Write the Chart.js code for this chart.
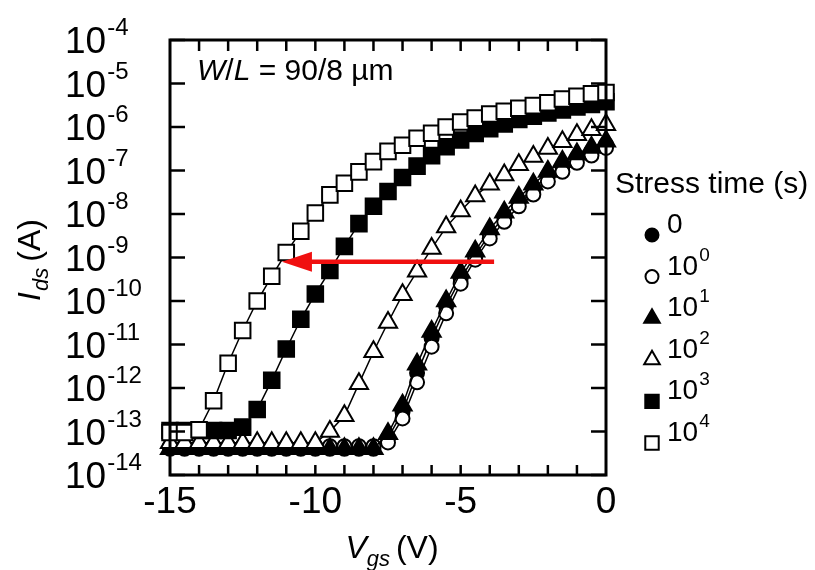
<!DOCTYPE html>
<html>
<head>
<meta charset="utf-8">
<script src="https://cdn.jsdelivr.net/npm/chart.js@4.4.0/dist/chart.umd.min.js"></script>
<style>
  html, body { margin: 0; padding: 0; background: #fff; }
  #wrap { width: 815px; height: 570px; }
</style>
</head>
<body>
<div id="wrap"><canvas id="ivChart" width="815" height="570"></canvas></div>
<script>
// gate sweep (V)
const vgs = [-15, -14.5, -14, -13.5, -13, -12.5, -12, -11.5, -11, -10.5, -10, -9.5, -9, -8.5, -8,
  -7.5, -7, -6.5, -6, -5.5, -5, -4.5, -4, -3.5, -3, -2.5, -2, -1.5, -1, -0.5, 0];

// drain current (A) after each stress time
const ids0 = [4.0e-14, 4.0e-14, 4.0e-14, 4.0e-14, 4.0e-14, 4.0e-14, 4.0e-14, 4.0e-14, 4.0e-14, 4.0e-14,
  4.0e-14, 4.0e-14, 4.0e-14, 4.0e-14, 4.0e-14,
  7.1e-14, 2.8e-13, 2.2e-12, 1.4e-11, 7.6e-11, 3.3e-10, 1.1e-9, 3.5e-9, 8.7e-9, 1.9e-8,
  3.8e-8, 7.6e-8, 1.26e-7, 2.0e-7, 2.8e-7, 4.0e-7];
const ids1e0 = [4.6e-14, 4.6e-14, 4.6e-14, 4.6e-14, 4.6e-14, 4.6e-14, 4.6e-14, 4.6e-14, 4.6e-14, 4.6e-14,
  4.6e-14, 4.6e-14, 4.6e-14, 4.6e-14, 4.6e-14,
  5.6e-14, 2.0e-13, 1.35e-12, 8.9e-12, 5.2e-11, 2.5e-10, 8.9e-10, 2.75e-9, 6.6e-9, 1.5e-8,
  2.8e-8, 5.6e-8, 9.3e-8, 1.5e-7, 2.2e-7, 3.3e-7];
const ids1e1 = [4.0e-14, 4.0e-14, 4.0e-14, 4.0e-14, 4.0e-14, 4.0e-14, 4.0e-14, 4.0e-14, 4.0e-14, 4.0e-14,
  4.0e-14, 4.0e-14, 4.0e-14, 4.0e-14, 4.0e-14,
  8.9e-14, 4.0e-13, 3.5e-12, 2.0e-11, 1.0e-10, 4.5e-10, 1.4e-9, 4.5e-9, 1.1e-8, 2.4e-8,
  4.8e-8, 9.5e-8, 1.6e-7, 2.4e-7, 3.4e-7, 4.7e-7];
const ids1e2 = [5.5e-14, 5.5e-14, 5.5e-14, 5.5e-14, 5.5e-14, 5.5e-14, 5.5e-14, 5.5e-14, 5.5e-14, 5.5e-14,
  5.5e-14,
  1.0e-13, 2.3e-13, 1.26e-12, 6.8e-12, 3.2e-11, 1.4e-10, 4.8e-10, 1.6e-9, 5.0e-9, 1.17e-8,
  2.6e-8, 4.8e-8, 7.9e-8, 1.35e-7, 2.1e-7, 3.2e-7, 4.6e-7, 6.6e-7, 8.7e-7, 1.12e-6];
const ids1e3 = [1.05e-13, 1.05e-13, 1.05e-13, 1.05e-13, 1.05e-13, 1.26e-13, 3.2e-13, 1.5e-12, 7.9e-12,
  3.8e-11, 1.45e-10, 5.0e-10, 1.8e-9, 6.0e-9, 1.5e-8, 3.3e-8, 6.9e-8, 1.26e-7, 2.2e-7, 3.5e-7,
  5.0e-7, 7.1e-7, 9.1e-7, 1.17e-6, 1.48e-6, 1.78e-6, 2.1e-6, 2.45e-6, 2.9e-6, 3.3e-6, 3.8e-6];
const ids1e4 = [9.5e-14, 9.5e-14, 1.1e-13, 5.1e-13, 3.7e-12, 2.1e-11, 1.0e-10, 3.7e-10, 1.3e-9, 4.0e-9,
  1.05e-8, 2.75e-8, 5.1e-8, 9.3e-8, 1.6e-7, 2.75e-7, 3.8e-7, 5.5e-7, 7.2e-7, 1.0e-6, 1.3e-6,
  1.6e-6, 2.0e-6, 2.3e-6, 2.7e-6, 3.1e-6, 3.6e-6, 4.4e-6, 5.1e-6, 5.8e-6, 6.2e-6];

// axis labels
const xTickLabels = [-15, -10, -5, 0];
const yTickExps = [-4, -5, -6, -7, -8, -9, -10, -11, -12, -13, -14];
const legendExps = [null, 0, 1, 2, 3, 4];

// shift arrow (Vgs, Ids)
const arrowFrom = [-3.85, 8e-10];
const arrowTo = [-11.15, 8e-10];

const FONT = '"Liberation Sans", Arial, Helvetica, sans-serif';

const markers = [
  { style: 'circle', fill: '#000', r: 7 },
  { style: 'circle', fill: '#fff', r: 7 },
  { style: 'triangle', fill: '#000', r: 10.5 },
  { style: 'triangle', fill: '#fff', r: 10.5 },
  { style: 'rect', fill: '#000', r: 11 },
  { style: 'rect', fill: '#fff', r: 11 }
];

function makeSeries(values, m, order) {
  return {
    data: vgs.map((v, i) => ({ x: v, y: values[i] })),
    showLine: true,
    borderColor: '#000',
    borderWidth: 1.5,
    pointStyle: m.style,
    pointRadius: m.r,
    pointBackgroundColor: m.fill,
    pointBorderColor: '#000',
    pointBorderWidth: 2,
    clip: false,
    order: order
  };
}

function drawRuns(ctx, runs, x, y) {
  runs.forEach(r => {
    ctx.font = (r.italic ? 'italic ' : '') + r.size + 'px ' + FONT;
    ctx.fillText(r.text, x, y + (r.dy || 0));
    x += ctx.measureText(r.text).width + (r.gap || 0);
  });
  return x;
}

function runsWidth(ctx, runs) {
  let w = 0;
  runs.forEach(r => {
    ctx.font = (r.italic ? 'italic ' : '') + r.size + 'px ' + FONT;
    w += ctx.measureText(r.text).width + (r.gap || 0);
  });
  return w;
}

function line(ctx, x1, y1, x2, y2) {
  ctx.beginPath();
  ctx.moveTo(x1, y1);
  ctx.lineTo(x2, y2);
  ctx.stroke();
}

const decorations = {
  id: 'decorations',
  afterDatasetsDraw(chart) {
    const { ctx, chartArea: a, scales: { x, y } } = chart;
    ctx.save();

    // red arrow
    const ax1 = x.getPixelForValue(arrowFrom[0]), ay = y.getPixelForValue(arrowFrom[1]);
    const ax2 = x.getPixelForValue(arrowTo[0]);
    ctx.strokeStyle = '#f01010';
    ctx.fillStyle = '#f01010';
    ctx.lineWidth = 4.5;
    line(ctx, ax1, ay, ax2 + 20, ay);
    ctx.beginPath();
    ctx.moveTo(ax2, ay);
    ctx.lineTo(ax2 + 30, ay - 10);
    ctx.lineTo(ax2 + 30, ay + 10);
    ctx.closePath();
    ctx.fill();

    // frame with inward ticks
    ctx.strokeStyle = '#000';
    ctx.lineWidth = 3;
    ctx.strokeRect(a.left, a.top, a.right - a.left, a.bottom - a.top);
    ctx.lineWidth = 2.5;
    for (let v = -14; v <= -1; v++) {
      const px = x.getPixelForValue(v);
      line(ctx, px, a.bottom, px, a.bottom - 10);
      line(ctx, px, a.top, px, a.top + 11);
    }
    yTickExps.forEach(e => {
      const py = y.getPixelForValue(Math.pow(10, e));
      line(ctx, a.left, py, a.left + 15, py);
      line(ctx, a.right, py, a.right - 15, py);
    });

    ctx.fillStyle = '#000';
    ctx.textBaseline = 'alphabetic';
    ctx.textAlign = 'left';

    // y tick labels
    yTickExps.forEach(e => {
      const py = y.getPixelForValue(Math.pow(10, e));
      drawRuns(ctx, [
        { text: '10', size: 37, gap: 1 },
        { text: '-' + Math.abs(e), size: 24, dy: -18 }
      ], 65, py + 13);
    });

    // x tick labels
    xTickLabels.forEach(v => {
      const runs = [{ text: String(v), size: 37 }];
      const px = x.getPixelForValue(v);
      drawRuns(ctx, runs, px - runsWidth(ctx, runs) / 2, 513);
    });

    // x title
    const xt = [
      { text: 'V', size: 32, italic: true },
      { text: 'gs', size: 22, italic: true, dy: 8, gap: 6 },
      { text: '(V)', size: 32 }
    ];
    drawRuns(ctx, xt, (a.left + a.right) / 2 - runsWidth(ctx, xt) / 2 + 4, 558);

    // y title
    const yt = [
      { text: 'I', size: 32, italic: true, gap: 1 },
      { text: 'ds', size: 22, italic: true, dy: 8, gap: 6 },
      { text: '(A)', size: 32 }
    ];
    ctx.save();
    ctx.translate(40, 260);
    ctx.rotate(-Math.PI / 2);
    drawRuns(ctx, yt, -runsWidth(ctx, yt) / 2, 0);
    ctx.restore();

    // W/L note
    drawRuns(ctx, [
      { text: 'W', size: 30, italic: true },
      { text: '/', size: 30 },
      { text: 'L', size: 30, italic: true },
      { text: ' = 90/8 \u00b5m', size: 30 }
    ], 197, 80);

    // legend
    drawRuns(ctx, [{ text: 'Stress time (s)', size: 30 }], 615, 193);
    legendExps.forEach((e, i) => {
      const m = markers[i];
      const cy = 235 + i * 41.6;
      ctx.fillStyle = m.fill;
      ctx.strokeStyle = '#000';
      ctx.lineWidth = 2;
      Chart.helpers.drawPoint(ctx, {
        pointStyle: m.style,
        radius: m.style === 'circle' ? m.r - 0.5 : m.r - 1.5,
        rotation: 0,
        borderWidth: 2
      }, 652, cy);
      ctx.fillStyle = '#000';
      const runs = e === null
        ? [{ text: '0', size: 28 }]
        : [{ text: '10', size: 28, gap: 1 }, { text: String(e), size: 19, dy: -14 }];
      drawRuns(ctx, runs, 667, cy - 2);
    });

    ctx.restore();
  }
};

new Chart(document.getElementById('ivChart'), {
  type: 'scatter',
  data: {
    datasets: [
      makeSeries(ids0, markers[0], 6),
      makeSeries(ids1e0, markers[1], 5),
      makeSeries(ids1e1, markers[2], 4),
      makeSeries(ids1e2, markers[3], 3),
      makeSeries(ids1e3, markers[4], 2),
      makeSeries(ids1e4, markers[5], 1)
    ]
  },
  options: {
    responsive: false,
    animation: false,
    events: [],
    layout: { padding: { top: 40, right: 209, left: 0, bottom: 0 } },
    plugins: { legend: { display: false }, tooltip: { enabled: false } },
    scales: {
      x: {
        type: 'linear', min: -15, max: 0,
        ticks: { display: false }, grid: { display: false }, border: { display: false },
        afterFit: s => { s.height = 95; }
      },
      y: {
        type: 'logarithmic', min: 1e-14, max: 1e-4,
        ticks: { display: false }, grid: { display: false }, border: { display: false },
        afterFit: s => { s.width = 170; }
      }
    }
  },
  plugins: [decorations]
});
</script>
</body>
</html>
